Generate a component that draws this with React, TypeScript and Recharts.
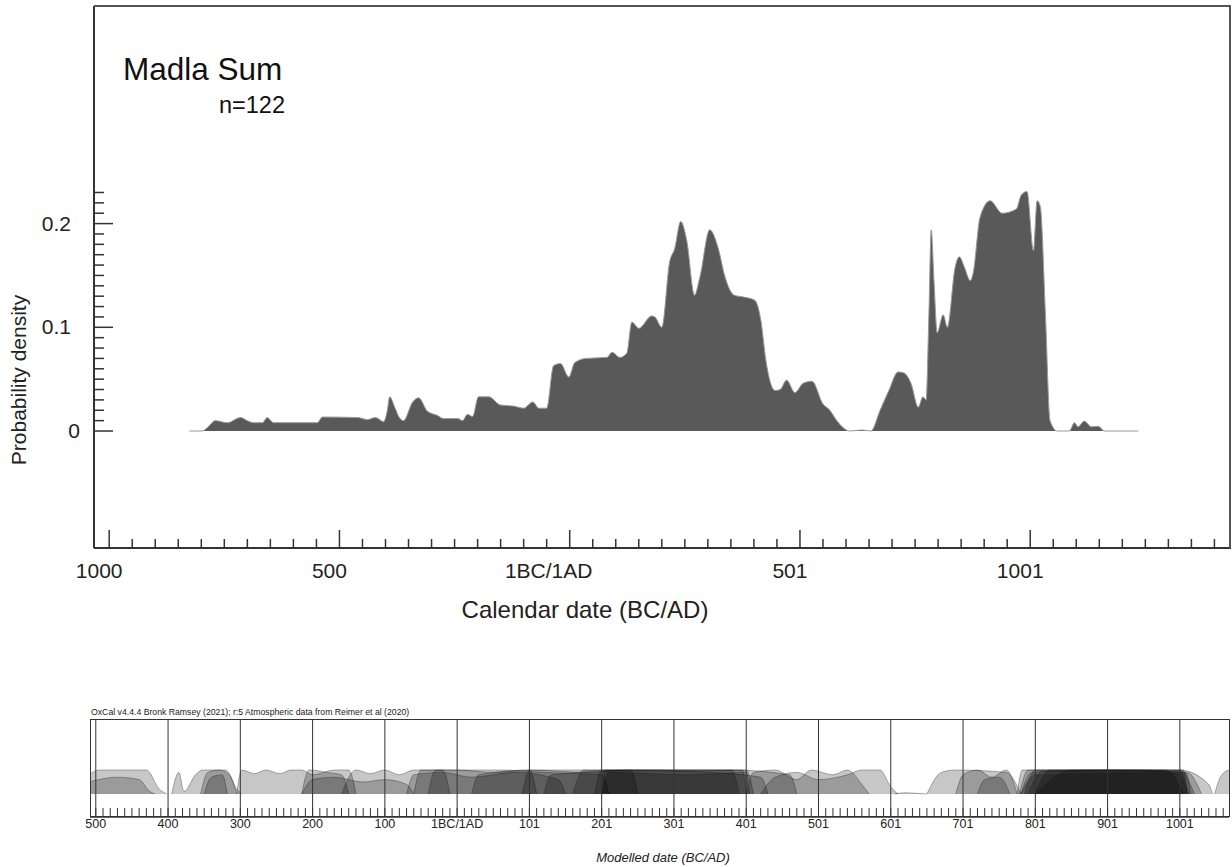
import React from 'react';
import { AreaChart, Area, XAxis, YAxis, ReferenceLine } from 'recharts';

// summed probability, Madla
const calYears = [
  -826, -798, -785, -770, -743, -715, -700, -687, -667, -657, -643, -548, -537, -461, -439, -422,
  -404, -396, -391, -380, -370, -361, -341, -328, -309, -287, -274, -243, -233, -222, -211, -198,
  -176, -150, -122, -100, -80, -67, -50, -35, -20, -2, 11, 35, 81, 92, 109, 124, 135, 150, 178,
  185, 200, 217, 228, 241, 254, 271, 283, 304, 322, 337, 357, 380, 402, 415, 426, 446, 457, 471,
  489, 507, 526, 550, 565, 580, 609, 635, 654, 674, 693, 713, 726, 741, 757, 767, 774, 780, 785,
  791, 798, 811, 820, 837, 846, 857, 870, 876, 891, 913, 939, 970, 980, 993, 1007, 1015, 1022,
  1033, 1043, 1059, 1085, 1096, 1104, 1117, 1133, 1148, 1161, 1235,
];
const density = [
  0, 0, 0.004, 0.01, 0.008, 0.013, 0.01, 0.008, 0.008, 0.013, 0.008, 0.008, 0.0135, 0.013, 0.011, 0.013,
  0.009, 0.02, 0.033, 0.023, 0.013, 0.01, 0.028, 0.032, 0.019, 0.015, 0.012, 0.012, 0.01, 0.016, 0.014, 0.033,
  0.033, 0.025, 0.024, 0.022, 0.028, 0.022, 0.022, 0.063, 0.065, 0.052, 0.066, 0.07, 0.071, 0.076, 0.071, 0.075, 0.105, 0.099, 0.111,
  0.11, 0.1, 0.163, 0.176, 0.202, 0.184, 0.131, 0.149, 0.194, 0.177, 0.149, 0.131, 0.129, 0.126, 0.107, 0.068, 0.039, 0.04, 0.049,
  0.037, 0.046, 0.048, 0.026, 0.02, 0.01, 0, 0.001, 0, 0.02, 0.039, 0.057, 0.056, 0.046, 0.023, 0.033, 0.03, 0.113, 0.194,
  0.145, 0.095, 0.112, 0.1, 0.158, 0.168, 0.158, 0.145, 0.152, 0.206, 0.222, 0.21, 0.214, 0.227, 0.231, 0.174, 0.222,
  0.216, 0.113, 0.01, 0, 0, 0.008, 0.004, 0.0096, 0.004, 0.0045, 0, 0,
];

const xMajor = [-1000, -500, 0, 500, 1000];
const xMajorLabels = ['1000', '500', '1BC/1AD', '501', '1001'];
const xTicks = Array.from({ length: 49 }, (_, i) => -1000 + i * 50);
const yTicks = Array.from({ length: 24 }, (_, i) => i / 100);

// modelled dates strip: each run is one sample's (flat-topped) distribution
const earlyRuns: [number, number][][] = [
  [[-510, 0.8], [-495, 1], [-430, 1], [-412, 0.2], [-402, 0]],
  [[-510, 0.5], [-470, 0.7], [-440, 0.6], [-425, 0.1], [-418, 0]],
  [[-395, 0], [-385, 0.9], [-378, 0.1], [-362, 0.8], [-352, 1], [-320, 1], [-305, 0.2], [-298, 0]],
  [[-355, 0], [-345, 0.9], [-330, 1], [-315, 0.8], [-305, 0]],
  [[-350, 0], [-340, 0.7], [-325, 0.8], [-318, 0]],
  [[-305, 0], [-298, 1], [-280, 0.85], [-265, 1], [-245, 0.85], [-230, 1], [-215, 1], [-200, 0.8], [-170, 1], [-150, 1], [-140, 0]],
  [[-215, 0], [-205, 1], [-180, 0.9], [-160, 0.8], [-150, 0]],
  [[-215, 0], [-200, 0.6], [-170, 0.7], [-130, 0.5], [-100, 0.6], [-70, 0.4], [-60, 0]],
];
const romanRuns: [number, number][][] = [
  [[-160, 0], [-140, 1], [-120, 0.85], [-100, 1], [-80, 0.8], [-60, 1], [-20, 1], [-10, 0]],
  [[-60, 0], [-50, 1], [0, 1], [50, 0.9], [100, 1], [110, 0]],
  [[-70, 0], [-60, 0.8], [-20, 0.9], [20, 0.7], [80, 0.9], [140, 0.6], [150, 0]],
  [[-40, 0], [-30, 1], [60, 1], [120, 0.9], [200, 0.8], [210, 0]],
  [[20, 0], [30, 0.8], [100, 1], [180, 0.9], [240, 1], [250, 0]],
  [[90, 0], [100, 1], [400, 1], [410, 0]],
  [[120, 0], [130, 0.8], [250, 1], [350, 0.9], [420, 0.7], [430, 0]],
  [[190, 0], [200, 1], [300, 1], [380, 1], [460, 0.8], [470, 0]],
  [[200, 0], [210, 0.9], [320, 0.8], [400, 0.9], [405, 0]],
  [[200, 0], [205, 1], [300, 1], [380, 1], [390, 0]],
  [[160, 0], [175, 1], [330, 0.95], [395, 1], [400, 0]],
];
const lateRuns: [number, number][][] = [
  [[400, 0], [410, 0.9], [440, 1], [470, 0.6], [490, 1], [520, 0.8], [540, 1], [560, 0.4], [570, 0]],
  [[420, 0], [440, 0.7], [470, 0.9], [500, 0.6], [540, 0.8], [560, 1], [585, 1], [600, 0.3], [610, 0]],
  [[605, 0], [620, 0.05], [640, 0.02], [650, 0]],
  [[650, 0], [670, 0.9], [690, 1], [760, 0.9], [780, 0]],
  [[690, 0], [700, 0.8], [720, 1], [740, 0.7], [760, 1], [775, 0]],
  [[720, 0], [730, 0.6], [750, 0.7], [765, 0]],
];
const vikingRuns: [number, number][][] = [
  [[775, 0], [782, 1], [1005, 1], [1010, 0]],
  [[778, 0], [790, 1], [1000, 0.95], [1012, 0]],
  [[780, 0], [795, 0.9], [900, 1], [1008, 0.9], [1015, 0]],
  [[785, 0], [800, 1], [950, 1], [1000, 0.8], [1010, 0]],
  [[790, 0], [810, 0.95], [1000, 1], [1020, 0]],
  [[800, 0], [820, 1], [980, 1], [1005, 0]],
  [[780, 0], [800, 0.8], [1010, 0.9], [1030, 0]],
  [[800, 0], [850, 1], [1000, 1], [1040, 0.4], [1045, 0]],
  [[1048, 0], [1058, 0.8], [1068, 1]],
];

const centuryTicks = [-500, -400, -300, -200, -100, 0, 100, 200, 300, 400, 500, 600, 700, 800, 900, 1000];
const centuryLabels = ['500', '400', '300', '200', '100', '1BC/1AD', '101', '201', '301', '401', '501', '601', '701', '801', '901', '1001'];
const decadeTicks = Array.from({ length: 157 }, (_, i) => -500 + i * 10);

const mainData = calYears.map((year, i) => ({ year, d: density[i] }));

const allRuns = [...earlyRuns, ...romanRuns, ...lateRuns, ...vikingRuns];
const stripYears = Array.from(new Set(allRuns.flat().map((p) => p[0]))).sort((a, b) => a - b);
const stripData = stripYears.map((year) => {
  const row: Record<string, number> = { year };
  allRuns.forEach((run, i) => {
    const p = run.find((q) => q[0] === year);
    if (p) row['s' + i] = p[1];
  });
  return row;
});

const FONT = '"Liberation Sans", Arial, sans-serif';

function CalTick(props: any) {
  const { x, y, payload } = props;
  const v = payload.value;
  const i = xMajor.indexOf(v);
  const major = i >= 0;
  return (
    <g>
      <line x1={x} x2={x} y1={y} y2={y - (major ? 18 : 9)} stroke="#333" strokeWidth={1.5} />
      {major && (
        <text x={x + (v === 0 ? -21 : -10)} y={y + 30} textAnchor="middle" fontSize={21} fill="#222">
          {xMajorLabels[i]}
        </text>
      )}
    </g>
  );
}

function DensityTick(props: any) {
  const { x, y, payload } = props;
  const v = payload.value;
  const major = Math.abs(v * 10 - Math.round(v * 10)) < 1e-6;
  return (
    <g>
      <line x1={x} x2={x + (major ? 19 : 10)} y1={y} y2={y} stroke="#333" strokeWidth={1.5} />
      {major && (
        <text x={x - (v === 0 ? 14 : 23)} y={y + 7} textAnchor="end" fontSize={21} fill="#222">
          {v === 0 ? '0' : v.toFixed(1)}
        </text>
      )}
    </g>
  );
}

function StripTick(props: any) {
  const { x, y, payload } = props;
  const v = payload.value;
  const i = centuryTicks.indexOf(v);
  return (
    <g>
      <line x1={x} x2={x} y1={y} y2={y - 9} stroke="#333" strokeWidth={1} />
      {i >= 0 && (
        <text x={x} y={y + 11} textAnchor="middle" fontSize={12.5} fill="#222">
          {centuryLabels[i]}
        </text>
      )}
    </g>
  );
}

export default function App() {
  return (
    <div style={{ position: 'absolute', left: 0, top: 0, width: 1232, height: 867, fontFamily: FONT, background: '#fff' }}>
      <div style={{ position: 'absolute', left: 0, top: 0 }}>
        <AreaChart width={1232} height={640} data={mainData} margin={{ top: 6, right: 1, bottom: 0, left: 0 }}>
          <XAxis
            dataKey="year"
            type="number"
            domain={[-1033, 1436]}
            allowDataOverflow
            ticks={xTicks}
            interval={0}
            height={92}
            tickSize={0}
            tickMargin={0}
            tickLine={false}
            axisLine={{ stroke: '#333', strokeWidth: 2 }}
            tick={<CalTick />}
          />
          <YAxis
            type="number"
            domain={[-0.1128, 0.4098]}
            allowDataOverflow
            ticks={yTicks}
            interval={0}
            width={94}
            tickSize={0}
            tickMargin={0}
            tickLine={false}
            axisLine={{ stroke: '#333', strokeWidth: 2 }}
            tick={<DensityTick />}
          />
          <Area
            type="monotone"
            dataKey="d"
            baseValue={0}
            fill="#595959"
            fillOpacity={1}
            stroke="#9a9a9a"
            strokeWidth={1}
            isAnimationActive={false}
          />
        </AreaChart>
      </div>
      <div
        style={{
          position: 'absolute', left: 94, top: 5, width: 1137, height: 543, boxSizing: 'border-box',
          borderTop: '2px solid #555', borderRight: '2px solid #555', pointerEvents: 'none',
        }}
      />
      <div style={{ position: 'absolute', left: 123, top: 51, fontSize: 31.5, color: '#111', whiteSpace: 'nowrap' }}>Madla Sum</div>
      <div style={{ position: 'absolute', right: 947, top: 92, fontSize: 23.5, color: '#111', whiteSpace: 'nowrap', textAlign: 'right' }}>n=122</div>
      <div
        style={{
          position: 'absolute', left: 19, top: 380, fontSize: 21, color: '#222', whiteSpace: 'nowrap',
          transform: 'translate(-50%, -50%) rotate(-90deg)',
        }}
      >
        Probability density
      </div>
      <div
        style={{ position: 'absolute', left: 585, top: 610, fontSize: 24, color: '#222', whiteSpace: 'nowrap', transform: 'translate(-50%, -50%)' }}
      >
        Calendar date (BC/AD)
      </div>

      <div style={{ position: 'absolute', left: 91, top: 707, fontSize: 8.7, color: '#222', whiteSpace: 'nowrap' }}>
        OxCal v4.4.4 Bronk Ramsey (2021); r:5 Atmospheric data from Reimer et al (2020)
      </div>
      <div style={{ position: 'absolute', left: 0, top: 705 }}>
        <AreaChart width={1232} height={140} data={stripData} margin={{ top: 14, right: 3, bottom: 0, left: 90 }}>
          <XAxis
            dataKey="year"
            type="number"
            domain={[-508, 1068]}
            allowDataOverflow
            ticks={decadeTicks}
            interval={0}
            height={28}
            tickSize={0}
            tickMargin={0}
            tickLine={false}
            axisLine={{ stroke: '#333', strokeWidth: 1.5 }}
            tick={<StripTick />}
          />
          <YAxis hide type="number" domain={[-0.958, 3.125]} allowDataOverflow />
          {allRuns.map((_, i) => (
            <Area
              key={i}
              type="monotone"
              dataKey={'s' + i}
              baseValue={0}
              connectNulls
              fill="#000"
              fillOpacity={0.22}
              stroke="#222"
              strokeOpacity={0.45}
              strokeWidth={0.8}
              isAnimationActive={false}
            />
          ))}
          {centuryTicks.map((c) => (
            <ReferenceLine key={c} x={c} stroke="#333" strokeWidth={1} />
          ))}
        </AreaChart>
      </div>
      <div
        style={{
          position: 'absolute', left: 90, top: 719, width: 1140, height: 98, boxSizing: 'border-box',
          border: '1.5px solid #333', pointerEvents: 'none',
        }}
      />
      <div
        style={{
          position: 'absolute', left: 663, top: 857, fontSize: 13, fontStyle: 'italic', color: '#222',
          whiteSpace: 'nowrap', transform: 'translate(-50%, -50%)',
        }}
      >
        Modelled date (BC/AD)
      </div>
    </div>
  );
}
